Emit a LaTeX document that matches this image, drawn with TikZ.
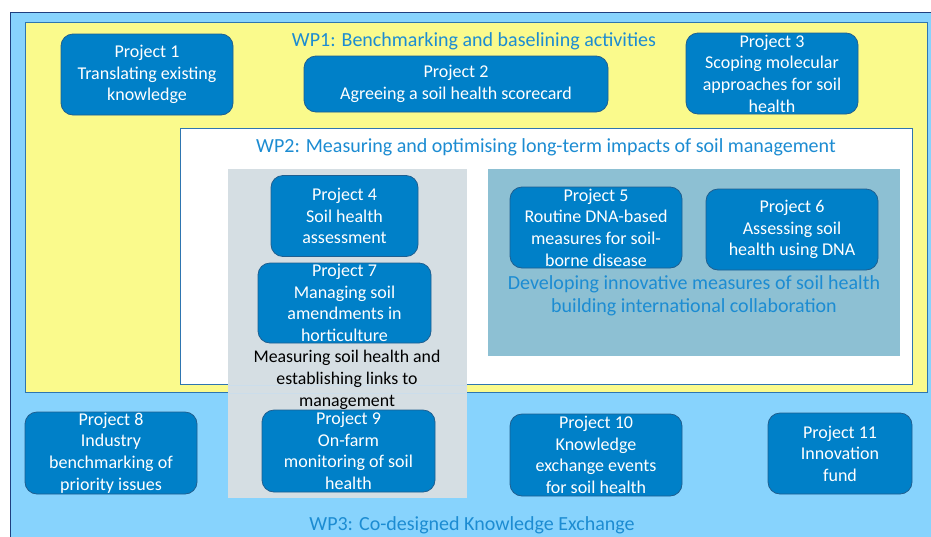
\documentclass[tikz,border=0pt]{standalone}
\usepackage{fontspec}
\setmainfont{Carlito}
\definecolor{outerblue}{HTML}{87D3FD}
\definecolor{outeredge}{HTML}{1F3F7F}
\definecolor{wpyellow}{HTML}{FAFA8C}
\definecolor{boxblue}{HTML}{0080C8}
\definecolor{boxedge}{HTML}{1F5F90}
\definecolor{titleblue}{HTML}{1C8CD2}
\definecolor{greybox}{HTML}{D5DEE3}
\definecolor{tealbox}{HTML}{8DC0D3}
\definecolor{frameedge}{HTML}{2E75B0}
\tikzset{
  proj/.style={rectangle, rounded corners=12pt, fill=boxblue, draw=boxedge, line width=0.8pt,
    text=white, align=center, inner sep=0pt, font=\fontsize{18}{21.6}\selectfont},
  wptitle/.style={text=titleblue, align=center, inner sep=0pt, yshift=-1.5pt, font=\fontsize{20}{23}\selectfont},
  darklabel/.style={text=black, align=center, inner sep=0pt, yshift=-1.5pt, font=\fontsize{17.8}{22}\selectfont}
}
\begin{document}
\begin{tikzpicture}[x=1pt,y=-1pt]
\useasboundingbox (0,0) rectangle (931,536);
\fill[white] (0,0) rectangle (931,536);
% frames
\draw[fill=outerblue, draw=outeredge, line width=1pt] (10,12) rectangle (936,545);
\draw[fill=wpyellow, draw=frameedge, line width=0.8pt] (25,22) rectangle (927,392);
\draw[fill=white, draw=frameedge, line width=0.8pt] (180,128) rectangle (912,384);
\fill[greybox] (228,169) rectangle (467,498);
\draw[frameedge!25, line width=0.5pt] (228,385) -- (467,385);
\draw[frameedge!25, line width=0.5pt] (228,393) -- (467,393);
\fill[tealbox] (488,169) rectangle (900,356);
% titles
\node[wptitle] (wp1) at (474,40) {WP1: Benchmarking and baselining activities};
\node[wptitle] (wp2) at (546,146) {WP2: Measuring and optimising long-term impacts of soil management};
\node[wptitle, font=\fontsize{20}{23.5}\selectfont] (dev) at (694,294.5) {Developing innovative measures of soil health\\building international collaboration};
\node[darklabel] (meas) at (347,378) {Measuring soil health and\\establishing links to\\management};
\node[wptitle] (wp3) at (472,524) {WP3: Co-designed Knowledge Exchange};
% projects
\node[proj, minimum width=172pt, minimum height=81pt] (p1) at (147,74.5) {Project 1\\Translating existing\\knowledge};
\node[proj, minimum width=304pt, minimum height=56pt] (p2) at (456,84) {Project 2\\Agreeing a soil health scorecard};
\node[proj, minimum width=172pt, minimum height=81pt] (p3) at (772,73.5) {Project 3\\Scoping molecular\\approaches for soil\\health};
\node[proj, minimum width=147pt, minimum height=81pt] (p4) at (344.5,216) {Project 4\\Soil health\\assessment};
\node[proj, minimum width=173pt, minimum height=80pt] (p7) at (344.5,303) {Project 7\\Managing soil\\amendments in\\horticulture};
\node[proj, minimum width=172pt, minimum height=81pt] (p5) at (596,227.5) {Project 5\\Routine DNA-based\\measures for soil-\\borne disease};
\node[proj, minimum width=172pt, minimum height=81pt] (p6) at (792,229.5) {Project 6\\Assessing soil\\health using DNA};
\node[proj, minimum width=172pt, minimum height=82pt] (p8) at (111,453) {Project 8\\Industry\\benchmarking of\\priority issues};
\node[proj, minimum width=173pt, minimum height=82pt] (p9) at (348.5,451) {Project 9\\On-farm\\monitoring of soil\\health};
\node[proj, minimum width=172pt, minimum height=82pt] (p10) at (596,455) {Project 10\\Knowledge\\exchange events\\for soil health};
\node[proj, minimum width=144pt, minimum height=81pt] (p11) at (840,453.5) {Project 11\\Innovation\\fund};
\end{tikzpicture}
\end{document}
